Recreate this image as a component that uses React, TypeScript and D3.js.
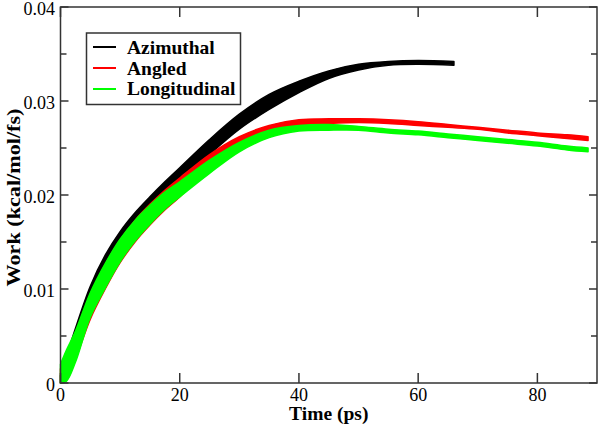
import React from "react";
import * as d3 from "d3";

const timesShort = [0, 1, 2.5, 5, 7.5, 10, 12.5, 15, 17.5, 20, 25, 30, 35, 40, 45, 50, 55, 60, 66];
const timesLong = [0, 1, 2.5, 5, 7.5, 10, 12.5, 15, 17.5, 20, 25, 30, 35, 40, 45, 50, 55, 60, 65, 70, 75, 80, 85, 88.5];

const azimuthalHi = [0.0008, 0.0028, 0.0058, 0.0103, 0.0136, 0.0161, 0.0181, 0.0198, 0.0214, 0.0229, 0.0259, 0.0286, 0.0307, 0.0321, 0.0332, 0.0339, 0.0342, 0.0343, 0.0342];
const azimuthalLo = [0, 0.0012, 0.0042, 0.0087, 0.012, 0.0145, 0.0165, 0.0182, 0.0198, 0.0213, 0.0243, 0.027, 0.0291, 0.0309, 0.0324, 0.0333, 0.0338, 0.0339, 0.0338];

const angledHi = [0.0015, 0.003, 0.0052, 0.0094, 0.0126, 0.0152, 0.0173, 0.019, 0.0205, 0.0218, 0.0243, 0.0262, 0.0274, 0.028, 0.0281, 0.0281, 0.028, 0.0278, 0.0275, 0.0272, 0.0269, 0.0266, 0.0264, 0.0262];
const angledLo = [0, 0.0003, 0.0025, 0.0068, 0.01, 0.0128, 0.015, 0.0168, 0.0184, 0.0198, 0.023, 0.0253, 0.0267, 0.0274, 0.0276, 0.0277, 0.0276, 0.0274, 0.0272, 0.027, 0.0266, 0.0263, 0.026, 0.0258];

const longitudinalHi = [0.002, 0.0035, 0.0055, 0.0096, 0.0127, 0.0153, 0.0173, 0.0189, 0.0203, 0.0214, 0.0237, 0.0256, 0.0269, 0.0274, 0.0275, 0.0273, 0.027, 0.0268, 0.0265, 0.0262, 0.0259, 0.0256, 0.0252, 0.025];
const longitudinalLo = [0, 0.0002, 0.0022, 0.007, 0.0101, 0.0129, 0.0151, 0.0169, 0.0185, 0.0198, 0.0223, 0.0246, 0.0261, 0.0268, 0.0269, 0.0269, 0.0266, 0.0264, 0.0261, 0.0258, 0.0255, 0.0252, 0.0248, 0.0246];

const seriesNames = ["Azimuthal", "Angled", "Longitudinal"];
const seriesColors = ["#000000", "#ff0000", "#00ff00"];

const xTicks = [0, 20, 40, 60, 80];
const yTicks = [0, 0.01, 0.02, 0.03, 0.04];
const yMinorTicks = [0.005, 0.015, 0.025, 0.035];

export default function App() {
  const W = 600, H = 427;
  const left = 60.5, right = 597, top = 7, bottom = 383;
  const x = d3.scaleLinear().domain([0, 90]).range([left, right]);
  const y = d3.scaleLinear().domain([0, 0.04]).range([bottom, top]);

  const series = [
    { t: timesShort, hi: azimuthalHi, lo: azimuthalLo },
    { t: timesLong, hi: angledHi, lo: angledLo },
    { t: timesLong, hi: longitudinalHi, lo: longitudinalLo },
  ];

  const font = "Liberation Serif";
  const axisColor = "#333";

  return (
    <svg width={W} height={H} fontFamily={font} style={{ position: "absolute", left: 0, top: 0, background: "#fff" }}>
      <rect x={0} y={0} width={W} height={H} fill="#fff" />
      {series.map((s, i) => {
        const gen = d3
          .area<number>()
          .x((_, k) => x(s.t[k]))
          .y0((_, k) => y(s.lo[k]))
          .y1((_, k) => y(s.hi[k]))
          .curve(d3.curveCatmullRom.alpha(0.5));
        return (
          <path
            key={i}
            d={gen(s.t) || ""}
            fill={seriesColors[i]}
            stroke={seriesColors[i]}
            strokeWidth={1.5}
            strokeLinejoin="round"
          />
        );
      })}
      <rect x={left} y={top} width={right - left} height={bottom - top} fill="none" stroke={axisColor} strokeWidth={1.5} />
      {xTicks.map((v) => (
        <g key={"x" + v}>
          <line x1={x(v)} x2={x(v)} y1={bottom} y2={bottom - 10} stroke={axisColor} strokeWidth={1.5} />
          <line x1={x(v)} x2={x(v)} y1={top} y2={top + 10} stroke={axisColor} strokeWidth={1.5} />
          <text x={x(v)} y={400.5} fontFamily={font} fontSize={18} textAnchor="middle" fill="#000">
            {v}
          </text>
        </g>
      ))}
      {yTicks.map((v) => (
        <g key={"y" + v}>
          <line x1={left} x2={left + 8} y1={y(v)} y2={y(v)} stroke={axisColor} strokeWidth={1.5} />
          <line x1={right} x2={right - 8} y1={y(v)} y2={y(v)} stroke={axisColor} strokeWidth={1.5} />
          <text x={55} y={y(v) + 7.5} fontFamily={font} fontSize={18} textAnchor="end" fill="#000">
            {v === 0 ? "0" : d3.format(".2f")(v)}
          </text>
        </g>
      ))}
      {yMinorTicks.map((v) => (
        <g key={"ym" + v}>
          <line x1={left} x2={left + 6} y1={y(v)} y2={y(v)} stroke={axisColor} strokeWidth={1.5} />
          <line x1={right} x2={right - 6} y1={y(v)} y2={y(v)} stroke={axisColor} strokeWidth={1.5} />
        </g>
      ))}
      <text
        x={(left + right) / 2}
        y={420}
        fontFamily={font}
        fontSize={19.5}
        fontWeight="bold"
        textAnchor="middle"
        fill="#000"
      >
        Time (ps)
      </text>
      <text
        transform={`translate(19.5, 197.5) rotate(-90)`}
        fontFamily={font}
        fontSize={19.5}
        fontWeight="bold"
        textAnchor="middle"
        textLength={178}
        lengthAdjust="spacingAndGlyphs"
        fill="#000"
      >
        Work (kcal/mol/fs)
      </text>
      <rect x={86.5} y={33} width={154} height={71.5} fill="#fff" stroke={axisColor} strokeWidth={1.5} />
      {seriesNames.map((n, i) => (
        <g key={n}>
          <line x1={93} x2={116} y1={47 + i * 21} y2={47 + i * 21} stroke={seriesColors[i]} strokeWidth={2} />
          <text x={127} y={54 + i * 20.5} fontFamily={font} fontSize={19.5} fontWeight="bold" fill="#000">
            {n}
          </text>
        </g>
      ))}
    </svg>
  );
}
